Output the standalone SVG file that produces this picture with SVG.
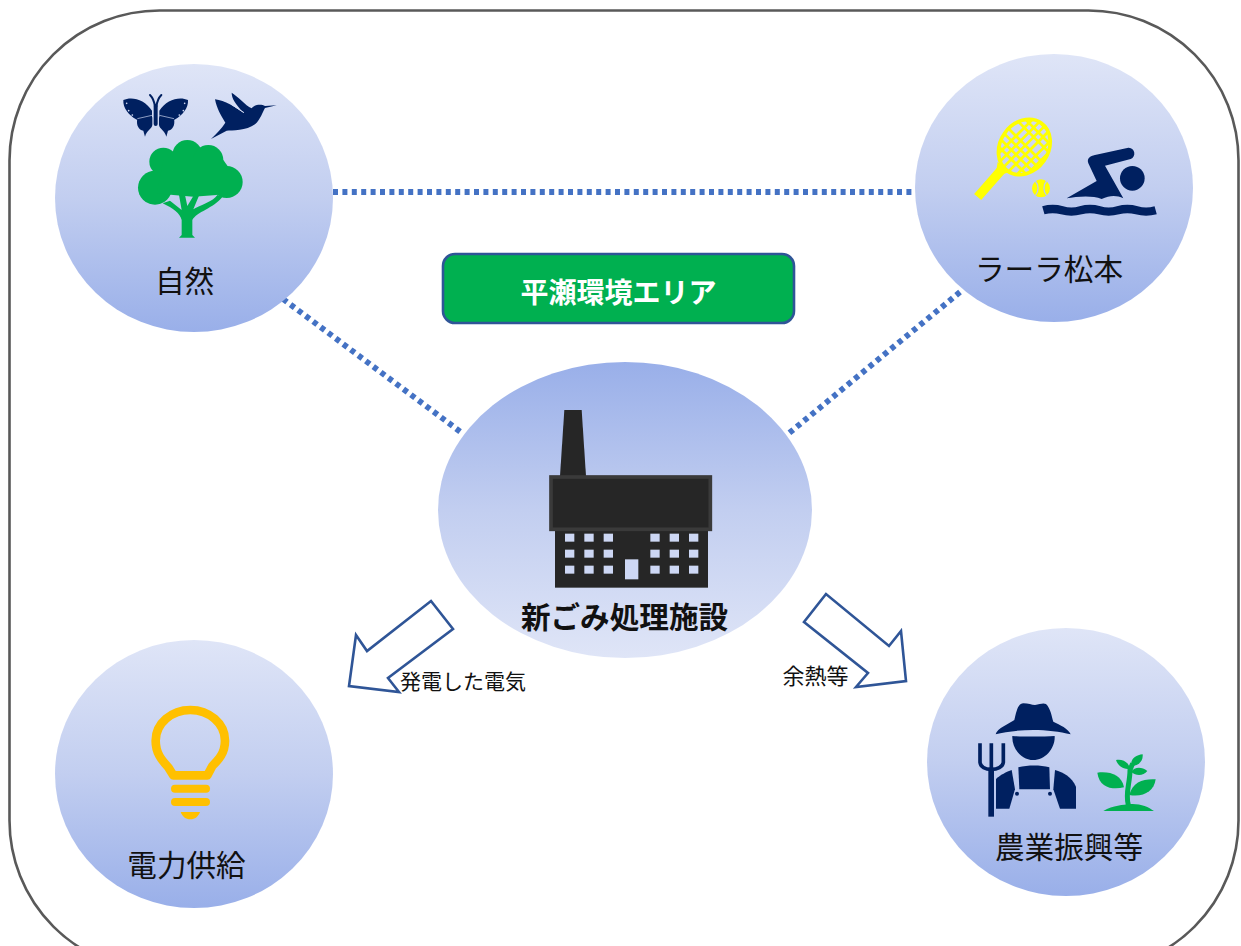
<svg xmlns="http://www.w3.org/2000/svg" width="1241" height="946" viewBox="0 0 1241 946">
<style>
text{font-family:"Noto Sans CJK JP","Noto Sans",sans-serif;fill:#111;text-anchor:middle}
.lbl{font-size:29.600px}
.small{font-size:21px}
.dot{fill:none;stroke:#4472c4;stroke-width:5.800;stroke-dasharray:5 4.400}
.arrow{fill:#fff;stroke:#2f5597;stroke-width:2.600;stroke-linejoin:miter}
.navy{fill:#002060}
.green{fill:#00b050}
.yellow{fill:#ffff00}
.win{fill:#cdd7f4}
</style>
<defs>
<linearGradient id="down" x1="0" y1="0" x2="0" y2="1"><stop offset="0" stop-color="#dfe5f7"/><stop offset="0.5" stop-color="#c2cef0"/><stop offset="1" stop-color="#99afe9"/></linearGradient>
<linearGradient id="up" x1="0" y1="1" x2="0" y2="0"><stop offset="0" stop-color="#dfe5f7"/><stop offset="0.5" stop-color="#c2cef0"/><stop offset="1" stop-color="#99afe9"/></linearGradient>
<clipPath id="head"><ellipse cx="195" cy="135" rx="72" ry="88" transform="rotate(35 195 135)"/></clipPath>
</defs>
<rect id="frame" x="9.500" y="10.500" width="1229" height="960" rx="150" ry="150" fill="#fff" stroke="#595959" stroke-width="2.600"/>
<g id="connectors">
<path class="dot" d="M333 192H915"/>
<path class="dot" d="M283 299L462 433"/>
<path class="dot" d="M960 292L788 434"/>
<polygon class="arrow" points="431,601 453,629 388,678 399,692 349,686 356,635 367,651"/>
<polygon class="arrow" points="826,594 804,622 868,673 856,687 906,681 901,631 889,646"/>
</g>
<g id="node-nature">
<ellipse cx="194" cy="198" rx="139" ry="134" fill="url(#down)"/>
<g transform="translate(100 80) scale(.33333)">
<g id="butterfly" class="navy">
<path d="M70 60C95 48 135 58 156 92V122C140 124 115 125 108 118C88 106 68 85 70 60Z"/>
<path d="M264 60C239 48 199 58 178 92V122C194 124 219 125 226 118C246 106 266 85 264 60Z"/>
<path d="M157 112V135C155 148 140 150 135 170L130 152C116 150 108 135 112 116Z"/>
<path d="M177 112V135C179 148 194 150 199 170L204 152C218 150 226 135 222 116Z"/>
<rect x="161" y="72" width="12" height="66" rx="6"/>
<path d="M150 45C160 55 163 65 165 80M184 45C174 55 171 65 169 80" fill="none" stroke="#002060" stroke-width="6" stroke-linecap="round"/>
<path d="M112 116L156 106M222 116L178 106" fill="none" stroke="#d5ddf5" stroke-width="2"/>
<g fill="#d5ddf5"><circle cx="80" cy="70" r="2.500"/><circle cx="86" cy="92" r="2.500"/><circle cx="97" cy="105" r="2.500"/><circle cx="254" cy="70" r="2.500"/><circle cx="250" cy="92" r="2.500"/><circle cx="238" cy="105" r="2.500"/></g>
</g>
<path id="bird" class="navy" d="M345 58C375 62 405 80 432 100C405 70 395 55 395 38C415 50 435 75 455 85C465 72 485 72 495 78L530 76L495 84C487 97 482 118 465 133C440 152 395 152 380 152L333 177C350 160 365 145 376 128C362 105 350 85 345 58Z"/>
<path d="M395 74L432 98" fill="none" stroke="#d5ddf5" stroke-width="3"/>
<g id="tree" class="green">
<circle cx="190" cy="245" r="42"/><circle cx="262" cy="225" r="45"/><circle cx="325" cy="240" r="45"/><circle cx="165" cy="323" r="51"/><circle cx="380" cy="306" r="48"/>
<polygon points="190,240 370,240 395,275 350,345 280,350 220,345 170,340"/>
<path d="M245 420V465L237 473H285L277 465V420C290 395 340 385 368 350L352 345C340 365 300 375 280 388L300 340H285L262 378L255 345H237L245 390L210 362L188 370C220 385 240 400 245 420Z"/>
</g>
</g>
<text class="lbl" x="184.500" y="292">自然</text>
</g>
<g id="node-lara">
<ellipse cx="1054" cy="188" rx="139" ry="134" fill="url(#down)"/>
<g transform="translate(960 100) scale(.33333)">
<g id="racket" transform="translate(-2 6)">
<ellipse cx="195" cy="135" rx="72" ry="88" transform="rotate(35 195 135)" fill="none" stroke="#ffff00" stroke-width="11"/>
<g clip-path="url(#head)"><path d="M100 60L260 220M100 88L260 248M100 116L260 276M100 32L260 192M128 10L280 162M156 10L290 144M190 10L300 120M90 210L270 30M90 182L270 2M90 238L270 58M90 266L280 76M110 280L290 100M130 290L300 120" stroke="#ffff00" stroke-width="8" fill="none"/></g>
<path d="M125 205L55 285" stroke="#ffff00" stroke-width="28" stroke-linejoin="round"/>
<path d="M115 180L108 225L150 210Z" class="yellow"/>
</g>
<circle cx="243" cy="265" r="27" class="yellow"/>
<path d="M226 243C237 255 237 275 226 287M260 243C249 255 249 275 260 287" fill="none" stroke="#bccaee" stroke-width="4"/>
<g id="swimmer" class="navy">
<circle cx="517" cy="235" r="37"/>
<path d="M320 295L410 243L385 190C380 175 390 168 405 165L505 143C525 142 530 170 512 177L435 197L490 295C470 285 450 285 425 297C395 285 350 290 320 295Z"/>
<path d="M250 331Q278 323 306 331T362 331T418 331T474 331T530 331T587 331" fill="none" stroke="#002060" stroke-width="25"/>
</g>
</g>
<text class="lbl" x="1049" y="280">ラーラ松本</text>
</g>
<g id="node-area">
<rect x="443" y="254" width="351" height="69" rx="12" fill="#00b050" stroke="#2f5597" stroke-width="2.600"/>
<text x="618.500" y="303" font-size="28" font-weight="700" style="fill:#fff">平瀬環境エリア</text>
</g>
<g id="node-plant">
<ellipse cx="625" cy="510" rx="187" ry="148" fill="url(#up)"/>
<g transform="translate(530 400) scale(.33333)">
<polygon points="103,30 155,30 168,228 90,228" fill="#262626"/>
<rect x="75" y="390" width="459" height="173" fill="#262626"/>
<rect x="63" y="231" width="478" height="157" fill="#262626" stroke="#3a3a3a" stroke-width="11"/>
<g class="win">
<rect x="105" y="401" width="28" height="24"/><rect x="163" y="401" width="28" height="24"/><rect x="221" y="401" width="28" height="24"/><rect x="361" y="401" width="28" height="24"/><rect x="419" y="401" width="28" height="24"/><rect x="477" y="401" width="28" height="24"/>
<rect x="105" y="449" width="28" height="24"/><rect x="163" y="449" width="28" height="24"/><rect x="221" y="449" width="28" height="24"/><rect x="361" y="449" width="28" height="24"/><rect x="419" y="449" width="28" height="24"/><rect x="477" y="449" width="28" height="24"/>
<rect x="105" y="497" width="28" height="24"/><rect x="163" y="497" width="28" height="24"/><rect x="221" y="497" width="28" height="24"/><rect x="361" y="497" width="28" height="24"/><rect x="419" y="497" width="28" height="24"/><rect x="477" y="497" width="28" height="24"/>
<rect x="285" y="478" width="40" height="60"/>
</g>
</g>
<text class="lbl" x="624.500" y="628" font-weight="700">新ごみ処理施設</text>
</g>
<g id="node-power">
<ellipse cx="194" cy="774" rx="139" ry="134" fill="url(#down)"/>
<g transform="translate(130 690) scale(.33333)" fill="#ffc000">
<path d="M130 256L115 232C95 210 77 190 77 152C77 100 125 60 181 60C237 60 285 100 285 152C285 190 265 210 247 228L232 256Z" fill="none" stroke="#ffc000" stroke-width="26" stroke-linejoin="round"/>
<rect x="123" y="284" width="117" height="24" rx="12"/>
<rect x="123" y="324" width="117" height="24" rx="12"/>
<path d="M152 366H210C205 380 195 388 181 388C167 388 157 380 152 366Z"/>
</g>
<text class="lbl" x="186.500" y="876">電力供給</text>
</g>
<g id="node-farm">
<ellipse cx="1066" cy="762" rx="139" ry="134" fill="url(#down)"/>
<g transform="translate(960 690) scale(.33333)">
<g class="navy">
<path d="M107 133C110 115 150 100 163 90C170 60 175 40 190 40C205 40 215 45 225 45C240 42 250 38 258 42C272 55 275 80 280 95C300 105 325 115 332 133C300 125 260 120 220 120C180 120 135 125 107 133Z"/>
<path d="M157 138C190 140 250 140 284 138C286 175 255 210 220 210C185 210 155 175 157 138Z"/>
<path d="M175 232C205 225 240 225 268 232L270 298H178Z"/>
<path d="M108 267C120 255 140 245 155 240L165 298L148 356H108Z"/>
<path d="M285 240C310 248 335 260 348 290V356H300L280 298Z"/>
<circle cx="171" cy="311" r="6"/><circle cx="270" cy="311" r="6"/>
<path d="M60 160V215C60 232 78 238 94 238C110 238 130 232 130 215V160M94 160V238" fill="none" stroke="#002060" stroke-width="11"/>
<rect x="85" y="236" width="17" height="144"/>
</g>
<g class="green">
<path d="M505 345C495 310 510 280 510 240L518 220" fill="none" stroke="#00b050" stroke-width="15"/>
<path d="M412 248C450 243 485 255 492 292C460 300 418 295 412 248Z"/>
<path d="M587 268C550 266 518 275 508 315C550 322 582 305 587 268Z"/>
<path d="M548 193C528 195 512 205 513 228C535 228 550 215 548 193Z"/>
<path d="M468 210C485 206 507 215 510 237C490 237 475 230 468 210Z"/>
<path d="M562 243C545 230 525 230 513 245C530 260 550 257 562 243Z"/>
<path d="M430 363C460 345 490 345 510 342C540 340 565 350 582 363Z"/>
</g>
</g>
<text class="lbl" x="1069" y="858">農業振興等</text>
</g>
<g id="edge-labels">
<text class="small" x="463" y="689">発電した電気</text>
<text class="small" x="815.500" y="684" font-size="22" style="font-size:22px">余熱等</text>
</g>
</svg>
